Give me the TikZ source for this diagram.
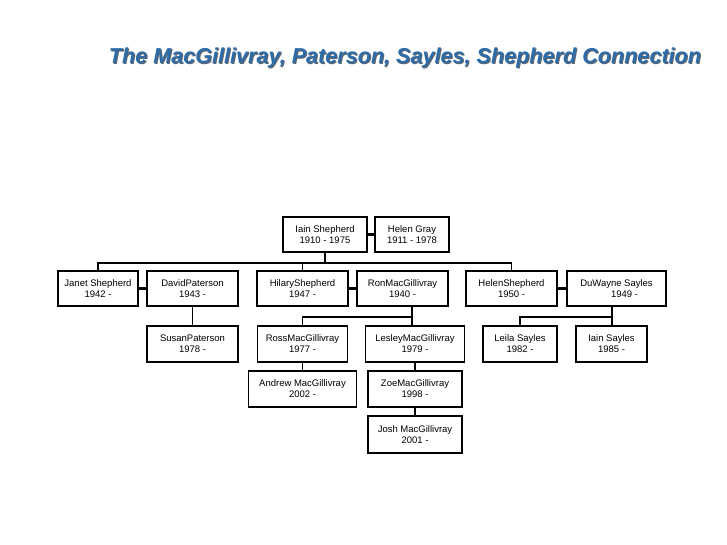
\documentclass[tikz,border=0pt]{standalone}
\usepackage{fontspec}
\setmainfont{Liberation Sans}
\usetikzlibrary{positioning,calc}
\definecolor{titleblue}{RGB}{46,108,168}
\definecolor{titleshade}{RGB}{95,100,110}

\begin{document}
\begin{tikzpicture}[
    x=1pt, y=-1pt,
    every node/.style={font=\fontsize{9.5}{11}\selectfont},
    person/.style={draw, line width=1.6pt, minimum height=35pt, inner sep=1pt, align=center},
    heading/.style={font=\fontsize{21.6}{24}\selectfont\bfseries\itshape, anchor=base},
    marriage/.style={line width=3.8pt},
    descent/.style={line width=1.8pt},
]
\useasboundingbox (0,0) rectangle (727,545);

% title with its shadow
\node[heading, text=titleshade] (titleshadow) at (406,65) {The MacGillivray, Paterson, Sayles, Shepherd Connection};
\node[heading, text=titleblue] (title) at (405,64) {The MacGillivray, Paterson, Sayles, Shepherd Connection};

% first generation
\node[person, minimum width=84pt] (iain) at (325,234.5) {Iain Shepherd\\1910 - 1975};
\node[person, minimum width=74pt] (helenG) at (412,234.5) {Helen Gray\\1911 - 1978};

% second generation
\node[person, minimum width=80pt] (janet) at (98,288.5) {Janet Shepherd\\1942 -};
\node[person, minimum width=91pt] (david) at (192.5,288.5) {DavidPaterson\\1943 -};
\node[person, minimum width=91pt] (hilary) at (302.5,288.5) {HilaryShepherd\\1947 -};
\node[person, minimum width=91pt] (ron) at (402.5,288.5) {RonMacGillivray\\1940 -};
\node[person, minimum width=91pt] (helenS) at (511.5,288.5) {HelenShepherd\\1950 -};
\node[person, minimum width=99pt] (duwayne) at (616.5,288.5) {DuWayne Sayles\\\hspace*{16pt}1949 -};

% third generation
\node[person, minimum width=91pt, minimum height=36pt] (susan) at (192.5,344) {SusanPaterson\\1978 -};
\node[person, minimum width=90pt, minimum height=36pt] (ross) at (302.5,344) {RossMacGillivray\\1977 -};
\node[person, minimum width=99pt, minimum height=36pt] (lesley) at (415,344) {LesleyMacGillivray\\1979 -};
\node[person, minimum width=74pt, minimum height=36pt] (leila) at (520,344) {Leila Sayles\\1982 -};
\node[person, minimum width=71pt, minimum height=36pt] (iainS) at (611.5,344) {Iain Sayles\\1985 -};

% fourth and fifth generation
\node[person, minimum width=108pt, minimum height=36pt] (andrew) at (302.5,389) {Andrew MacGillivray\\2002 -};
\node[person, minimum width=94pt, minimum height=36pt] (zoe) at (415,389) {ZoeMacGillivray\\1998 -};
\node[person, minimum width=94pt, minimum height=37pt] (josh) at (415,434.5) {Josh MacGillivray\\2001 -};

% marriages
\draw[marriage] (iain.east) -- (helenG.west);
\draw[marriage] (janet.east) -- (david.west);
\draw[marriage] (hilary.east) -- (ron.west);
\draw[marriage] (helenS.east) -- (duwayne.west);

% children
\coordinate (shepkids) at (325,263);
\coordinate (ronkids) at (412,317);
\coordinate (saylkids) at (612,317);
\draw[descent] (iain.south) -- (shepkids);
\draw[descent] (janet.north) |- (shepkids) -| (helenS.north);
\draw[descent] (hilary.north) -- (hilary.north |- shepkids);
\draw[descent] (david.south) -- (susan.north);
\draw[descent] (ronkids |- ron.south) -- (ronkids |- lesley.north);
\draw[descent] (ross.north) |- (ronkids);
\draw[descent] (saylkids |- duwayne.south) -- (saylkids |- iainS.north);
\draw[descent] (leila.north) |- (saylkids);
\draw[descent] (ross.south) -- (andrew.north);
\draw[descent] (lesley.south) -- (zoe.north);
\draw[descent] (zoe.south) -- (josh.north);
\end{tikzpicture}
\end{document}
